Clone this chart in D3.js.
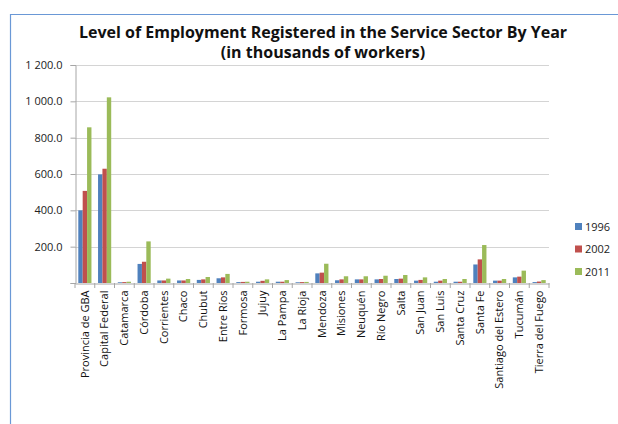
<!DOCTYPE html>
<html><head><meta charset="utf-8">
<script src="https://cdn.jsdelivr.net/npm/d3@7"></script>
<style>body{margin:0;background:#fff}</style>
</head><body>
<svg id="c" width="618" height="424"></svg>
<script>
const categories = ["Provincia de GBA","Capital Federal","Catamarca","Córdoba","Corrientes","Chaco","Chubut","Entre Ríos","Formosa","Jujuy","La Pampa","La Rioja","Mendoza","Misiones","Neuquén","Río Negro","Salta","San Juan","San Luis","Santa Cruz","Santa Fe","Santiago del Estero","Tucumán","Tierra del Fuego"];
const years = ["1996","2002","2011"];
const v1996 = [400,598,4,105,14,14,17,26,5,7,7,4,53,15,20,20,22,13,7,7,102,13,31,5];
const v2002 = [507,629,5,117,14,14,20,31,6,12,7,5,57,20,20,22,24,17,13,7,130,13,35,8];
const v2011 = [857,1022,7,229,24,22,33,50,7,20,16,6,106,37,37,40,44,31,22,22,209,22,68,16];
const yTicks = [0,200,400,600,800,1000,1200];
const colors = ["#4F81BD","#C0504D","#9BBB59"];

const series = [v1996, v2002, v2011];
const svg = d3.select("#c");
const font = "'Open Sans', 'Liberation Sans', sans-serif";

// frame
svg.append("path").attr("d","M10.5,424 V14.5 H618").attr("fill","none").attr("stroke","#6A98D6").attr("stroke-width",1.2);

const x0 = d3.scaleBand().domain(categories).range([75,549]);
const x1 = d3.scaleBand().domain(years).range([0, x0.bandwidth()]).paddingOuter(0.75).paddingInner(0);
const y = d3.scaleLinear().domain([0,1200]).range([283,65]);

// gridlines
svg.append("g").selectAll("line").data(yTicks.slice(1)).join("line")
  .attr("x1",75).attr("x2",549).attr("y1",d=>Math.round(y(d))+0.5).attr("y2",d=>Math.round(y(d))+0.5)
  .attr("stroke","#D4D4D4").attr("stroke-width",1.2);

// bars
const g = svg.append("g");
categories.forEach((c,i)=>{
  series.forEach((s,j)=>{
    g.append("rect").attr("x",x0(c)+x1(years[j])).attr("width",x1.bandwidth())
      .attr("y",y(s[i])).attr("height",y(0)-y(s[i])).attr("fill",colors[j]);
  });
});

// y axis
const ya = svg.append("g").attr("transform","translate(75.5,0)")
  .call(d3.axisLeft(y).tickValues(yTicks).tickSize(5).tickFormat(d=>d===0?"":d3.format(",.1f")(d).replace(",", " ")));
ya.select(".domain").attr("stroke","#A6A6A6");
ya.selectAll(".tick line").attr("stroke","#A6A6A6");
ya.selectAll("text").attr("font-family",font).attr("font-size",11).attr("fill","#222").attr("x",-13);

// x axis
const xa = svg.append("g").attr("transform","translate(0,283.5)")
  .call(d3.axisBottom(x0).tickSize(0));
xa.select(".domain").attr("stroke","#A6A6A6");
xa.selectAll(".tick text").attr("font-family",font).attr("font-size",11).attr("fill","#111")
  .attr("transform","rotate(-90)").attr("text-anchor","end").attr("x",-7).attr("y",0).attr("dy","0.35em");
// x ticks at boundaries
svg.append("g").selectAll("line").data(d3.range(categories.length+1)).join("line")
  .attr("x1",d=>75+d*x0.step()).attr("x2",d=>75+d*x0.step()).attr("y1",283).attr("y2",288)
  .attr("stroke","#A6A6A6");

// title
const tAttrs = sel => sel.attr("text-anchor","middle").attr("font-family",font)
  .attr("font-weight","bold").attr("font-size",16).attr("fill","#111").attr("x",323);
svg.append("text").call(tAttrs).attr("y",38).text("Level of Employment Registered in the Service Sector By Year");
svg.append("text").call(tAttrs).attr("y",58).text("(in thousands of workers)");

// legend
const lg = svg.append("g");
years.forEach((yr,j)=>{
  lg.append("rect").attr("x",575).attr("y",223+j*22.5).attr("width",7).attr("height",7).attr("fill",colors[j]);
  lg.append("text").attr("x",585).attr("y",227+j*22.5).attr("dy","0.35em").attr("font-family",font)
    .attr("font-size",11).attr("fill","#222").text(yr);
});
</script>
</body></html>
